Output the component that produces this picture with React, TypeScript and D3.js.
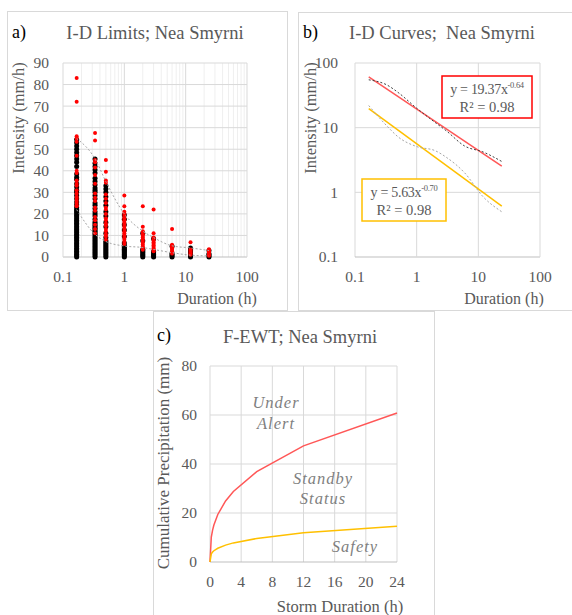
import React from "react";
import * as d3 from "d3";

// durations (h) of the rain events
const durations = [0.167, 0.333, 0.5, 1, 2, 3, 6, 12, 24];

// panel a: intensities (mm/h) per duration, black = all events, red = critical events
const blackPts = [
  [0, 0.6, 1.3, 2, 2.7, 3.4, 4.1, 4.9, 5.6, 6.3, 7, 7.8, 8.5, 9.2, 9.9, 10.6, 11.4, 12.1, 12.8, 13.5, 14.2, 15, 15.7, 16.4, 17.1, 17.8, 18.6, 19.3, 20, 20.8, 21.5, 22, 23, 24.2, 25.5, 27, 28.5, 30, 31, 32.5, 34, 36, 37, 38.5, 42, 44, 45.5, 47, 48.5, 50, 51.5, 53, 54.5],
  [0, 0.7, 1.4, 2.1, 2.8, 3.5, 4.2, 4.9, 5.6, 6.3, 7, 7.7, 8.4, 9.1, 9.8, 10.5, 11.2, 11.9, 12.6, 13.3, 14, 14.7, 15.5, 16.2, 17.5, 19, 20, 21, 22.5, 24, 25, 27, 28.5, 30, 31, 32, 33.5, 35, 36.5, 39, 40.5, 42, 43.5, 45.5],
  [0, 0.7, 1.4, 2.1, 2.8, 3.5, 4.2, 4.9, 5.6, 6.3, 7, 7.7, 9, 11, 14, 16, 19, 21, 24, 26, 28, 30, 31.5, 33],
  [0, 0.6, 1.2, 1.8, 2.4, 3, 3.6, 4.2, 4.8, 5.3, 6.5, 9.5, 12.5, 15, 17.5, 19.5],
  [0, 0.6, 1.2, 1.8, 2.4, 3, 3.6, 7.5, 11],
  [0, 0.6, 1.2, 1.8, 2.5, 8.5],
  [0, 0.6, 1.2, 1.7, 5],
  [0, 0.6, 1.2, 1.8, 2.4, 3, 3.6, 4.2],
  [0, 0.5, 1, 1.5, 3],
];
const redPts = [
  [83, 72, 56, 55, 53.5, 47, 40, 39, 35.5, 34, 33, 31, 29.5, 28, 27, 26, 25, 24, 23.5],
  [57.5, 54, 45, 44, 41.5, 38, 34, 29.5, 27.5, 26, 23, 21.5, 18.5, 17, 15, 13, 11],
  [45, 39.5, 35.5, 34.5, 29, 27, 25, 23, 22, 20, 18, 17, 15.5, 14.5, 13, 12, 10.5, 9.5, 8],
  [28.5, 23.5, 21, 20, 19, 18, 17, 16, 15, 14, 13, 12, 11, 10, 9, 8, 7, 6],
  [23.5, 14, 12, 11.3, 10.5, 9.7, 9, 8.2, 7.4, 6.6, 5.8, 5, 4.2, 3.4],
  [22, 11, 9, 8.3, 7.6, 6.9, 6.2, 5.5, 4.8, 4.1, 3.4, 2.7],
  [13, 5.7, 5.1, 4.5, 3.9, 3.3, 2.7, 2.1, 1.6],
  [6.8, 3.5, 2.9, 2.3, 1.7, 1.1],
  [3.6, 3, 2.4, 1.8, 1.2, 0.6],
];
// envelope limits (dotted)
const upperLimit = [55, 45.5, 35, 20, 12, 9, 5.2, 4.2, 3.0];
const lowerLimit = [22, 10.5, 7.2, 5.1, 4.4, 3.5, 2.0, 0.85, 0.5];

// panel b: power trend lines, end values
const trendDur = [0.167, 24];
const redTrend = [61, 2.55];
const yellowTrend = [19.7, 0.61];

// panel c: cumulative precipitation thresholds (mm)
const cumDur = [0, 0.167, 0.333, 0.5, 1, 2, 3, 6, 12, 24];
const alertCum = [0, 10.2, 13, 15.1, 19.4, 24.9, 28.8, 36.9, 47.4, 60.8];
const safetyCum = [0, 3.3, 4.05, 4.6, 5.6, 6.9, 7.8, 9.6, 11.9, 14.6];

const aYTicks = [0, 10, 20, 30, 40, 50, 60, 70, 80, 90];
const logTicks = [0.1, 1, 10, 100];
const cXTicks = [0, 4, 8, 12, 16, 20, 24];
const cYTicks = [0, 20, 40, 60, 80];

const FONT = "'Liberation Serif', serif";
const TXT = "#595959";
const GRID = "#d9d9d9";
const MINOR = "#efefef";
const RED = "#ff0000";
const REDLINE = "#ff5757";
const GOLD = "#ffc000";
const TICK = 15.5;

const minorTicks = (lo: number, hi: number) => {
  const out: number[] = [];
  for (let d = lo; d < hi; d *= 10) for (let k = 2; k <= 9; k++) out.push(d * k);
  return out;
};

const PanelA = () => {
  const x = d3.scaleLog().domain([0.1, 100]).range([63, 247]);
  const y = d3.scaleLinear().domain([0, 90]).range([257, 63]);
  const line = d3.line<number>().x((_, i) => x(durations[i])).y((d) => y(d)).curve(d3.curveMonotoneX);
  return (
    <g>
      <rect x={7.5} y={11.5} width={280} height={299} fill="#fff" stroke={GRID} />
      {minorTicks(0.1, 100).map((t) => (
        <line key={"m" + t} x1={x(t)} x2={x(t)} y1={63} y2={257} stroke={MINOR} />
      ))}
      {aYTicks.map((t) => (
        <line key={"h" + t} x1={63} x2={247} y1={y(t)} y2={y(t)} stroke={t === 0 ? "#bfbfbf" : GRID} />
      ))}
      {logTicks.map((t) => (
        <line key={"v" + t} x1={x(t)} x2={x(t)} y1={63} y2={257} stroke={GRID} />
      ))}
      {blackPts.map((col, i) =>
        col.map((v, j) => <circle key={`b${i}-${j}`} cx={x(durations[i])} cy={y(v)} r={2.5} fill="#000" />)
      )}
      {redPts.map((col, i) =>
        col.map((v, j) => <circle key={`r${i}-${j}`} cx={x(durations[i])} cy={y(v)} r={2} fill={RED} />)
      )}
      <path d={line(upperLimit) || ""} fill="none" stroke="#a6a6a6" strokeWidth={1} strokeDasharray="2 2" />
      <path d={line(lowerLimit) || ""} fill="none" stroke="#a6a6a6" strokeWidth={1} strokeDasharray="2 2" />
      {aYTicks.map((t) => (
        <text key={"yl" + t} x={49} y={y(t)} dy="0.35em" textAnchor="end" fontSize={TICK} fill={TXT}>{t}</text>
      ))}
      {logTicks.map((t) => (
        <text key={"xl" + t} x={x(t)} y={282} textAnchor="middle" fontSize={TICK} fill={TXT}>{t}</text>
      ))}
      <text x={12} y={38} fontSize={18} fill="#000">a)</text>
      <text x={155} y={39} textAnchor="middle" fontSize={18.5} fill={TXT}>I-D Limits; Nea Smyrni</text>
      <text x={217} y={304} textAnchor="middle" fontSize={16} fill={TXT}>Duration (h)</text>
      <text transform="translate(24,118) rotate(-90)" textAnchor="middle" fontSize={16.5} fill={TXT}>Intensity (mm/h)</text>
    </g>
  );
};

const EqBox = ({ x0, y0, w, h, color, coef, exp }: any) => (
  <g>
    <rect x={x0} y={y0} width={w} height={h} fill="#fff" stroke={color} strokeWidth={1.5} />
    <text x={x0 + w / 2} y={y0 + 18} textAnchor="middle" fontSize={14} letterSpacing={-0.3} fill={TXT}>
      {`y = ${coef}x`}
      <tspan fontSize={8.5} dy={-6}>{exp}</tspan>
    </text>
    <text x={x0 + w / 2} y={y0 + 36} textAnchor="middle" fontSize={14.5} fill={TXT}>R² = 0.98</text>
  </g>
);

const PanelB = () => {
  const x = d3.scaleLog().domain([0.1, 100]).range([355, 540]);
  const y = d3.scaleLog().domain([0.1, 100]).range([257, 63]);
  const dotted = d3.line<number>().x((_, i) => x(durations[i])).y((d) => y(d)).curve(d3.curveMonotoneX);
  const trend = d3.line<number>().x((_, i) => x(trendDur[i])).y((d) => y(d));
  return (
    <g>
      <rect x={298.5} y={12.5} width={300} height={298} fill="#fff" stroke={GRID} />
      {logTicks.map((t) => (
        <g key={"g" + t}>
          <line x1={x(t)} x2={x(t)} y1={63} y2={257} stroke={GRID} />
          <line x1={355} x2={540} y1={y(t)} y2={y(t)} stroke={t === 0.1 ? "#bfbfbf" : GRID} />
        </g>
      ))}
      <path d={trend(redTrend) || ""} fill="none" stroke={REDLINE} strokeWidth={1.5} />
      <path d={trend(yellowTrend) || ""} fill="none" stroke={GOLD} strokeWidth={1.5} />
      <path d={dotted(upperLimit) || ""} fill="none" stroke="#404040" strokeWidth={1} strokeDasharray="2 2" />
      <path d={dotted(lowerLimit) || ""} fill="none" stroke="#a6a6a6" strokeWidth={1} strokeDasharray="2 2" />
      {logTicks.map((t) => (
        <text key={"yl" + t} x={338} y={y(t)} dy="0.35em" textAnchor="end" fontSize={TICK} fill={TXT}>{t}</text>
      ))}
      {logTicks.map((t) => (
        <text key={"xl" + t} x={x(t)} y={282} textAnchor="middle" fontSize={TICK} fill={TXT}>{t}</text>
      ))}
      <EqBox x0={442} y0={76} w={90} h={42} color={RED} coef="19.37" exp="-0.64" />
      <EqBox x0={362} y0={179} w={84} h={42} color={GOLD} coef="5.63" exp="-0.70" />
      <text x={303} y={38} fontSize={18} fill="#000">b)</text>
      <text x={442} y={39} textAnchor="middle" fontSize={18.5} fill={TXT} style={{ whiteSpace: "pre" }}>I-D Curves;  Nea Smyrni</text>
      <text x={504} y={304} textAnchor="middle" fontSize={16} fill={TXT}>Duration (h)</text>
      <text transform="translate(316,118) rotate(-90)" textAnchor="middle" fontSize={16.5} fill={TXT}>Intensity (mm/h)</text>
    </g>
  );
};

const PanelC = () => {
  const x = d3.scaleLinear().domain([0, 24]).range([210, 397]);
  const y = d3.scaleLinear().domain([0, 80]).range([562, 366]);
  const line = d3.line<number>().x((_, i) => x(cumDur[i])).y((d) => y(d));
  const lab = { fontSize: 16.5, fill: "#7f7f7f", fontStyle: "italic", textAnchor: "middle" as const, letterSpacing: 1 };
  return (
    <g>
      <rect x={153.5} y={311.5} width={281} height={320} fill="#fff" stroke={GRID} />
      {cXTicks.map((t) => (
        <line key={"v" + t} x1={x(t)} x2={x(t)} y1={366} y2={562} stroke={GRID} />
      ))}
      {cYTicks.map((t) => (
        <line key={"h" + t} x1={210} x2={397} y1={y(t)} y2={y(t)} stroke={t === 0 ? "#bfbfbf" : GRID} />
      ))}
      <path d={line(alertCum) || ""} fill="none" stroke={REDLINE} strokeWidth={1.5} />
      <path d={line(safetyCum) || ""} fill="none" stroke={GOLD} strokeWidth={1.5} />
      {cYTicks.map((t) => (
        <text key={"yl" + t} x={197} y={y(t)} dy="0.35em" textAnchor="end" fontSize={TICK} fill={TXT}>{t}</text>
      ))}
      {cXTicks.map((t) => (
        <text key={"xl" + t} x={x(t)} y={587} textAnchor="middle" fontSize={TICK} fill={TXT}>{t}</text>
      ))}
      <text x={276} y={408} {...lab}>Under</text>
      <text x={276} y={429} {...lab}>Alert</text>
      <text x={323} y={484} {...lab}>Standby</text>
      <text x={323} y={504} {...lab}>Status</text>
      <text x={355} y={552} {...lab}>Safety</text>
      <text x={157} y={341} fontSize={18} fill="#000">c)</text>
      <text x={300} y={343} textAnchor="middle" fontSize={18.5} fill={TXT}>F-EWT; Nea Smyrni</text>
      <text x={340} y={612} textAnchor="middle" fontSize={16.5} fill={TXT}>Storm Duration (h)</text>
      <text transform="translate(169,463) rotate(-90)" textAnchor="middle" fontSize={17} fill={TXT}>Cumulative Precipitation (mm)</text>
    </g>
  );
};

export default function App() {
  return (
    <svg
      width={572}
      height={615}
      style={{ position: "absolute", left: 0, top: 0, background: "#fff", fontFamily: FONT }}
    >
      <PanelA />
      <PanelB />
      <PanelC />
    </svg>
  );
}
